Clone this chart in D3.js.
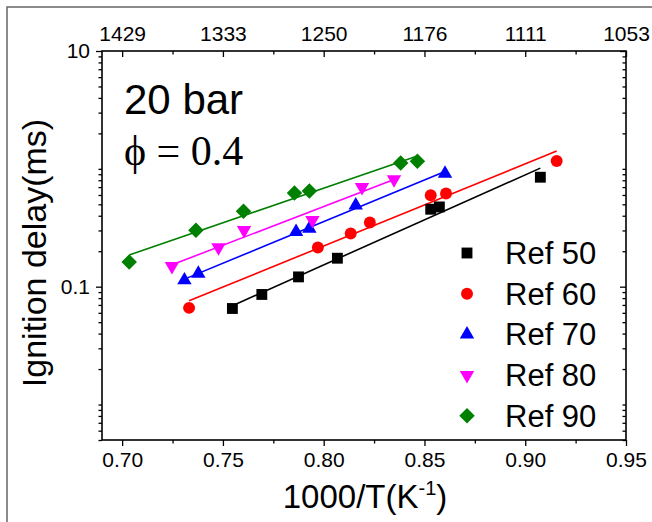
<!DOCTYPE html>
<html>
<head>
<meta charset="utf-8">
<script src="https://cdn.jsdelivr.net/npm/d3@7"></script>
<style>
  body { margin: 0; background: #fff; }
  svg { display: block; }
</style>
</head>
<body>
<svg id="chart" width="652" height="522"></svg>
<script>
// Ignition delay vs inverse temperature, 20 bar, phi = 0.4
const seriesNames = ["Ref 50", "Ref 60", "Ref 70", "Ref 80", "Ref 90"];
const seriesColors = ["#000000", "#ff0000", "#0000ff", "#ff00ff", "#008000"];

const ref50X = [0.7547, 0.7693, 0.7875, 0.8068, 0.8531, 0.8574, 0.9075];
const ref50Y = [0.0653, 0.0859, 0.1211, 0.1744, 0.4542, 0.4751, 0.849];

const ref60X = [0.7332, 0.7971, 0.8134, 0.8229, 0.8531, 0.8607, 0.9156];
const ref60Y = [0.0661, 0.2150, 0.2826, 0.3510, 0.597, 0.617, 1.167];

const ref70X = [0.7309, 0.7378, 0.7863, 0.7929, 0.8159, 0.8602];
const ref70Y = [0.1135, 0.1294, 0.2917, 0.3115, 0.4912, 0.912];

const ref80X = [0.7247, 0.7478, 0.7605, 0.7944, 0.8190, 0.8349];
const ref80Y = [0.1492, 0.2150, 0.3014, 0.3664, 0.698, 0.8116];

const ref90X = [0.7035, 0.7366, 0.7602, 0.7855, 0.7929, 0.8382, 0.8465];
const ref90Y = [0.1623, 0.3014, 0.4369, 0.6245, 0.6496, 1.122, 1.160];

const xTicks = [0.70, 0.75, 0.80, 0.85, 0.90, 0.95];
const xTickLabels = ["0.70", "0.75", "0.80", "0.85", "0.90", "0.95"];
const topTickLabels = ["1429", "1333", "1250", "1176", "1111", "1053"];
const yTickValues = [10, 0.1];
const yTickLabels = ["10", "0.1"];

const allX = [ref50X, ref60X, ref70X, ref80X, ref90X];
const allY = [ref50Y, ref60Y, ref70Y, ref80Y, ref90Y];

const svg = d3.select("#chart");
const W = 652, H = 522;
const plot = { left: 102, right: 626, top: 51, bottom: 440 };

const x = d3.scaleLinear().domain([0.69, 0.95]).range([plot.left, plot.right]);
const y = d3.scaleLog().domain([0.005, 10]).range([plot.bottom, plot.top]);

const FONT = "Liberation Sans, Arial, sans-serif";

// page border
svg.append("path")
  .attr("d", `M7,${H} L7,7 L${W},7`)
  .attr("fill", "none").attr("stroke", "#666").attr("stroke-width", 1.5);

// minor tick positions
const xMinor = [0.725, 0.775, 0.825, 0.875, 0.925];
const yMinor = [];
for (let d = -3; d <= 1; d++) {
  for (let k = 1; k <= 9; k++) {
    const v = k * Math.pow(10, d);
    if (v >= 0.005 && v <= 10 && !yTickValues.some(t => Math.abs(t - v) < 1e-9)) yMinor.push(v);
  }
}

// bottom axis (ticks out)
svg.append("g").attr("transform", `translate(0,${plot.bottom})`)
  .call(d3.axisBottom(x).tickValues(xTicks)
    .tickFormat((d, i) => xTickLabels[i]).tickSize(6).tickPadding(6));
svg.append("g").attr("transform", `translate(0,${plot.bottom})`)
  .call(d3.axisBottom(x).tickValues(xMinor).tickFormat("").tickSize(3.5));

// top axis (ticks in), labels in temperature
svg.append("g").attr("transform", `translate(0,${plot.top})`)
  .call(d3.axisTop(x).tickValues(xTicks).tickFormat((d, i) => topTickLabels[i]).tickSize(0).tickPadding(10));
svg.append("g").attr("transform", `translate(0,${plot.top})`)
  .call(d3.axisBottom(x).tickValues(xTicks).tickFormat("").tickSize(6));
svg.append("g").attr("transform", `translate(0,${plot.top})`)
  .call(d3.axisBottom(x).tickValues(xMinor).tickFormat("").tickSize(3.5));

// left axis (ticks out)
svg.append("g").attr("transform", `translate(${plot.left},0)`)
  .call(d3.axisLeft(y).tickValues(yTickValues).tickFormat((d, i) => yTickLabels[i]).tickSize(6).tickPadding(6));
svg.append("g").attr("transform", `translate(${plot.left},0)`)
  .call(d3.axisLeft(y).tickValues(yMinor).tickFormat("").tickSize(3.5));

// right axis (ticks in)
svg.append("g").attr("transform", `translate(${plot.right},0)`)
  .call(d3.axisLeft(y).tickValues(yTickValues).tickFormat("").tickSize(6));
svg.append("g").attr("transform", `translate(${plot.right},0)`)
  .call(d3.axisLeft(y).tickValues(yMinor).tickFormat("").tickSize(3.5));

svg.selectAll(".domain").remove();
svg.selectAll(".tick line").attr("stroke", "#000").attr("stroke-width", 1.3);
svg.selectAll(".tick text").attr("font-family", FONT).attr("font-size", 21).attr("fill", "#000");

// frame
svg.append("rect")
  .attr("x", plot.left).attr("y", plot.top)
  .attr("width", plot.right - plot.left).attr("height", plot.bottom - plot.top)
  .attr("fill", "none").attr("stroke", "#000").attr("stroke-width", 1.6);

// linear fits of log10(delay) against 1000/T
function fit(xs, ys) {
  const ly = ys.map(v => Math.log10(v));
  const mx = d3.mean(xs), my = d3.mean(ly);
  let sxy = 0, sxx = 0;
  xs.forEach((xv, i) => { sxy += (xv - mx) * (ly[i] - my); sxx += (xv - mx) * (xv - mx); });
  const b = sxy / sxx, a = my - b * mx;
  const x0 = d3.min(xs), x1 = d3.max(xs);
  return [[x0, Math.pow(10, a + b * x0)], [x1, Math.pow(10, a + b * x1)]];
}

const line = d3.line().x(d => x(d[0])).y(d => y(d[1]));
allX.forEach((xs, s) => {
  svg.append("path").attr("d", line(fit(xs, allY[s])))
    .attr("fill", "none").attr("stroke", seriesColors[s]).attr("stroke-width", 1.6);
});

// marker shapes
const markers = [
  { type: d3.symbolSquare, size: 118, rot: 0 },
  { type: d3.symbolCircle, size: 112, rot: 0 },
  { type: d3.symbolTriangle, size: 90, rot: 0 },
  { type: d3.symbolTriangle, size: 90, rot: 180 },
  { type: d3.symbolSquare, size: 120, rot: 45 }
];

allX.forEach((xs, s) => {
  const m = markers[s];
  const path = d3.symbol().type(m.type).size(m.size)();
  svg.append("g").selectAll("path").data(xs.map((xv, i) => [xv, allY[s][i]]))
    .join("path")
    .attr("d", path)
    .attr("transform", d => `translate(${x(d[0])},${y(d[1])}) rotate(${m.rot})`)
    .attr("fill", seriesColors[s]);
});

// legend
const legend = svg.append("g");
seriesNames.forEach((name, s) => {
  const cy = 253 + s * 40.7;
  const m = markers[s];
  legend.append("path").attr("d", d3.symbol().type(m.type).size(m.size)())
    .attr("transform", `translate(467,${cy}) rotate(${m.rot})`)
    .attr("fill", seriesColors[s]);
  legend.append("text").attr("x", 505).attr("y", cy + 11)
    .attr("font-family", FONT).attr("font-size", 31).text(name);
});

// annotations
svg.append("text").attr("x", 124).attr("y", 114)
  .attr("font-family", FONT).attr("font-size", 42).text("20 bar");
svg.append("text").attr("x", 124).attr("y", 165)
  .attr("font-family", "Liberation Serif, Times New Roman, serif").attr("font-size", 42)
  .text("ϕ = 0.4");

// axis titles
const xt = svg.append("text").attr("x", 365).attr("y", 508)
  .attr("text-anchor", "middle").attr("font-family", FONT).attr("font-size", 33);
xt.append("tspan").text("1000/T(K");
xt.append("tspan").attr("font-size", 20).attr("dy", -13).text("-1");
xt.append("tspan").attr("dy", 13).text(")");

svg.append("text")
  .attr("transform", "translate(46,253) rotate(-90)")
  .attr("text-anchor", "middle").attr("font-family", FONT).attr("font-size", 34)
  .text("Ignition delay(ms)");
</script>
</body>
</html>
